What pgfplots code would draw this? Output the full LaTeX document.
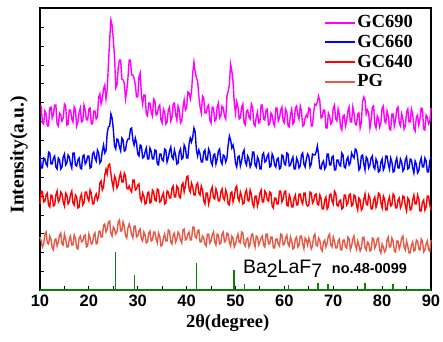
\documentclass[border=0pt]{standalone}
\usepackage{pgfplots}
\pgfplotsset{compat=1.18}
\usepackage{pgfplotstable}
\usepackage{fontspec}
\setmainfont{Liberation Serif}
\newfontfamily\arial{Liberation Sans}
\definecolor{cmag}{RGB}{255,0,255}
\definecolor{cblue}{RGB}{0,0,255}
\definecolor{cred}{RGB}{255,0,0}
\definecolor{cpg}{RGB}{228,90,70}
\definecolor{cgreen}{RGB}{10,128,10}
\pgfplotstableread{
x m b r p
10 184 135 86 53
10.25 184 122 99 49
10.5 167 122 98 43
10.75 166 132 88 46
11 179 131 89 56
11.25 176 126 95 58
11.5 164 124 97 47
11.75 164 138 85 46
12 182 137 83 54
12.25 183 126 95 51
12.5 172 126 94 42
12.75 176 132 84 40
13 185 134 85 50
13.25 185 123 95 51
13.5 166 121 99 44
13.75 164 132 88 48
14 177 130 90 55
14.25 175 121 98 57
14.5 169 123 96 46
14.75 172 133 88 45
15 186 136 84 56
15.25 184 125 97 51
15.5 165 127 95 43
15.75 166 135 86 43
16 180 133 88 51
16.25 180 126 96 54
16.5 171 122 99 45
16.75 168 137 87 45
17 183 137 85 55
17.25 180 125 95 52
17.5 164 124 93 42
17.75 168 130 82 41
18 178 132 83 52
18.25 182 122 93 54
18.5 168 121 96 48
18.75 169 134 85 49
19 185 135 87 54
19.25 180 126 98 55
19.5 170 128 98 43
19.75 170 134 92 44
20 181 134 89 56
20.25 182 122 100 52
20.5 166 123 97 46
20.75 166 136 86 47
21 179 138 86 55
21.25 179 132 93 57
21.5 171 129 96 46
21.75 173 140 90 47
22 193 137 93 58
22.25 196 127 107 59
22.5 186 129 109 53
22.75 191 139 100 53
23 201 145 103 65
23.25 205 137 115 66
23.5 191 139 121 58
23.75 201 157 116 61
24 226 163 125 68
24.25 250 164 126 69
24.5 270 176 117 57
24.75 265 172 108 54
25 250 161 102 63
25.25 234 144 114 61
25.5 202 141 111 56
25.75 205 151 102 58
26 222 150 105 68
26.25 230 143 113 70
26.5 230 139 117 59
26.75 211 152 108 59
27 210 150 108 68
27.25 207 139 117 64
27.5 191 140 114 54
27.75 199 148 102 52
28 212 151 101 62
28.25 230 151 104 66
28.5 230 161 100 62
28.75 215 162 98 55
29 215 150 110 52
29.25 212 145 110 64
29.5 205 152 100 64
29.75 193 147 101 53
30 193 136 105 54
30.25 213 134 106 59
30.5 217 145 92 61
30.75 195 144 89 51
31 186 132 97 49
31.25 195 133 94 58
31.5 195 138 86 55
31.75 176 142 87 47
32 174 131 97 48
32.25 187 131 98 57
32.5 187 142 87 59
32.75 178 139 88 49
33 174 131 100 50
33.25 191 131 98 58
33.5 189 140 90 58
33.75 175 139 89 51
34 176 126 101 47
34.25 183 125 100 57
34.5 185 136 88 54
34.75 170 136 89 44
35 167 130 94 45
35.25 181 129 97 52
35.5 178 141 86 56
35.75 166 140 87 49
36 168 128 99 49
36.25 180 132 98 60
36.5 183 139 92 59
36.75 169 143 92 48
37 172 133 102 46
37.25 186 131 104 55
37.5 187 140 93 57
37.75 176 135 93 48
38 170 126 104 51
38.25 184 127 102 58
38.5 180 138 93 56
38.75 167 141 92 50
39 169 131 105 47
39.25 182 132 107 60
39.5 190 145 98 61
39.75 180 142 104 50
40 182 132 113 51
40.25 198 132 114 56
40.5 197 146 101 58
40.75 191 152 98 50
41 198 148 107 50
41.25 217 153 103 63
41.5 228 162 95 63
41.75 218 158 95 53
42 212 140 105 52
42.25 209 134 107 59
42.5 194 140 97 60
42.75 183 136 95 48
43 177 128 104 48
43.25 194 128 100 54
43.5 192 138 89 52
43.75 177 140 86 46
44 177 130 97 44
44.25 183 130 97 56
44.5 185 141 86 56
44.75 170 138 91 47
45 167 128 100 49
45.25 183 125 103 55
45.5 182 135 92 58
45.75 169 136 91 48
46 170 126 101 45
46.25 183 131 97 56
46.5 187 139 89 55
46.75 172 141 89 46
47 174 129 98 47
47.25 184 126 101 56
47.5 182 135 92 58
47.75 174 134 90 48
48 171 128 100 49
48.25 194 132 96 57
48.5 199 145 86 56
48.75 205 154 85 48
49 226 150 97 44
49.25 219 142 98 54
49.5 208 145 88 52
49.75 187 139 93 43
50 177 127 102 46
50.25 188 123 104 52
50.5 183 133 92 56
50.75 171 134 89 48
51 172 124 98 47
51.25 183 129 94 58
51.5 186 137 86 57
51.75 167 140 87 46
52 165 128 97 44
52.25 179 125 100 51
52.5 180 134 90 52
52.75 173 131 89 43
53 171 123 100 46
53.25 186 126 96 55
53.5 183 138 86 56
53.75 166 138 83 48
54 164 125 94 43
54.25 173 123 94 54
54.5 178 133 84 53
54.75 167 130 89 45
55 168 121 97 48
55.25 185 121 100 52
55.5 185 135 88 54
55.75 171 137 88 45
56 170 128 99 43
56.25 180 129 97 56
56.5 181 134 90 56
56.75 165 136 89 46
57 166 123 98 46
57.25 177 124 97 53
57.5 175 136 84 53
57.75 167 133 82 42
58 164 125 92 42
58.25 182 123 92 51
58.5 182 131 86 51
58.75 169 132 86 46
59 172 121 99 44
59.25 180 122 99 56
59.5 183 135 88 55
59.75 169 134 91 45
60 167 126 98 46
60.25 181 125 99 52
60.5 178 137 85 55
60.75 164 136 84 46
61 163 124 95 44
61.25 176 125 91 53
61.5 181 130 83 49
61.75 166 133 83 41
62 168 121 92 42
62.25 182 121 95 51
62.5 184 132 85 53
62.75 175 129 85 43
63 171 122 96 45
63.25 184 124 96 54
63.5 179 135 89 54
63.75 164 137 86 46
64 165 126 97 41
64.25 172 123 97 52
64.5 175 131 86 50
64.75 173 136 84 45
65 182 134 85 52
65.25 181 123 98 48
65.5 164 126 97 41
65.75 164 136 87 44
66 178 135 89 54
66.25 186 135 95 56
66.5 185 138 96 45
66.75 188 144 86 44
67 194 135 85 52
67.25 189 122 95 50
67.5 172 121 92 41
67.75 173 127 81 39
68 180 129 81 48
68.25 180 121 90 50
68.5 162 123 93 43
68.75 162 136 81 47
69 177 136 83 54
69.25 174 125 95 56
69.5 166 125 96 45
69.75 168 133 89 43
70 182 134 86 53
70.25 185 120 99 49
70.5 171 120 97 42
70.75 169 130 85 42
71 181 130 84 49
71.25 176 125 89 51
71.5 163 124 90 40
71.75 160 137 81 40
72 174 135 82 50
72.25 175 123 95 50
72.5 164 122 95 43
72.75 169 130 85 42
73 179 133 87 53
73.25 183 125 95 51
73.5 168 127 96 40
73.75 168 137 84 44
74 183 134 85 51
74.25 177 132 95 54
74.5 166 141 94 45
74.75 165 140 85 41
75 176 132 80 49
75.25 177 120 92 45
75.5 162 122 90 39
75.75 168 134 80 42
76 188 135 82 52
76.25 193 126 91 53
76.5 190 120 96 42
76.75 176 133 86 40
77 180 131 85 48
77.25 177 122 95 47
77.5 162 125 92 39
77.75 170 132 81 40
78 183 134 81 52
78.25 184 123 90 51
78.5 166 121 93 42
78.75 162 131 83 45
79 174 128 87 51
79.25 171 118 97 52
79.5 163 119 96 40
79.75 167 128 87 37
80 182 131 82 46
80.25 184 120 94 43
80.5 169 123 91 38
80.75 167 134 80 40
81 179 134 80 50
81.25 174 126 89 53
81.5 161 121 93 43
81.75 160 132 84 43
82 176 128 85 52
82.25 176 118 96 49
82.5 164 119 94 39
82.75 170 128 82 38
83 181 132 82 49
83.25 183 122 90 49
83.5 167 122 92 41
83.75 164 131 82 45
84 176 128 85 52
84.25 171 119 94 54
84.5 161 121 93 43
84.75 164 130 84 40
85 178 133 79 49
85.25 181 121 92 44
85.5 168 122 90 37
85.75 168 131 80 37
86 181 130 81 45
86.25 176 122 90 48
86.5 162 117 95 39
86.75 159 129 86 40
87 173 126 86 50
87.25 175 117 95 49
87.5 165 119 91 41
87.75 171 128 79 40
88 182 132 79 51
88.25 181 123 88 49
88.5 161 123 90 38
88.75 160 132 80 40
89 175 129 83 46
89.25 173 118 94 49
89.5 166 118 94 40
89.75 168 129 85 39
90 182 133 80 50
}\xrd
\begin{document}
\begin{tikzpicture}
\useasboundingbox (-40pt,-51pt) rectangle (403pt,290pt);
\begin{axis}[
  at={(0,0)}, anchor=south west,
  width=391pt, height=282pt, scale only axis,
  xmin=10, xmax=90, ymin=0, ymax=282,
  clip=false,
  xtick={10,20,...,90}, xticklabels={10,20,30,40,50,60,70,80,90},
  minor x tick num=1,
  ytick={0,18.75,...,281.25}, yticklabels={},
  tick align=inside, xtick pos=bottom, ytick pos=left,
  major tick length=4pt, minor tick length=4pt,
  tick style={black, line width=0.9pt},
  axis line style={line width=1.1pt},
  xticklabel style={font=\arial\bfseries\fontsize{16.5}{16.5}\selectfont, yshift=-1pt},
  xlabel={2θ(degree)}, ylabel={Intensity(a.u.)},
  xlabel style={font=\bfseries\fontsize{18.5}{18.5}\selectfont, at={(axis description cs:0.48,-0.117)}, anchor=center},
  ylabel style={font=\bfseries\fontsize{19.5}{19.5}\selectfont, at={(axis description cs:-0.054,0.479)}, anchor=center},
  legend style={at={(axis description cs:0.965,0.985)}, anchor=north east,
    draw=none, fill=none, font=\bfseries\fontsize{18.5}{18.5}\selectfont,
    row sep=3.5pt, nodes={inner sep=1.2pt}},
  legend cell align=left,
  legend image code/.code={\draw[#1, line width=2pt] (0pt,0pt)--(30pt,0pt);},
]
\addplot[cmag, line width=1.4pt] table[x=x, y=m] {\xrd};
\addlegendentry{GC690}
\addplot[cblue, line width=1.4pt] table[x=x, y=b] {\xrd};
\addlegendentry{GC660}
\addplot[cred, line width=1.4pt] table[x=x, y=r] {\xrd};
\addlegendentry{GC640}
\addplot[cpg, line width=1.4pt] table[x=x, y=p] {\xrd};
\addlegendentry{PG}
\addplot[cgreen, line width=1.4pt, forget plot] coordinates {(10,0) (90,0)};
\addplot[cgreen, line width=1.4pt, ycomb, forget plot] coordinates {
(25.5,38) (29.3,15) (42.0,27) (49.7,20) (51.9,6) (60.8,5) (66.9,7) (68.9,6) (76.5,7) (82.2,6)};
\node[anchor=base west, font=\arial\fontsize{19.5}{19.5}\selectfont, inner sep=0pt] at (axis cs:51.5,17) {Ba\raisebox{-4pt}{2}LaF\raisebox{-4pt}{7}};
\node[anchor=base west, font=\arial\bfseries\fontsize{14.5}{14.5}\selectfont, inner sep=0pt] at (axis cs:69.7,17) {no.48-0099};
\end{axis}
\end{tikzpicture}
\end{document}
